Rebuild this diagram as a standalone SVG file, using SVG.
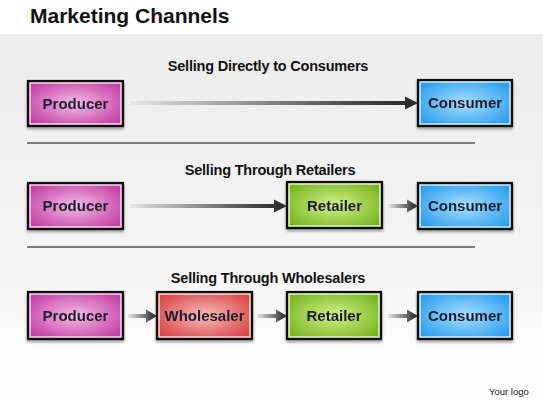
<svg xmlns="http://www.w3.org/2000/svg" width="543" height="403" viewBox="0 0 543 403">
<defs>
<style>
.title{font-family:"Liberation Sans",Arial,sans-serif;font-weight:bold;font-size:21px;fill:#111;}
.head{font-family:"Liberation Sans",Arial,sans-serif;font-weight:bold;font-size:14.5px;fill:#111;text-anchor:middle;letter-spacing:-0.2px;}
.lbl{font-family:"Liberation Sans",Arial,sans-serif;font-weight:bold;font-size:15px;fill:#1a1a2e;text-anchor:middle;}
.logo{font-family:"Liberation Sans",Arial,sans-serif;font-size:9.5px;fill:#222;}
.frame{fill:none;stroke:#111;stroke-width:2.2;}
.inner{fill:none;stroke:#f4f4f4;stroke-width:1.3;}
.div{stroke:#555;stroke-width:1.3;}
.arr{fill:url(#gArr);}
</style>
<linearGradient id="gBg" x1="0" y1="0" x2="0" y2="1">
<stop offset="0" stop-color="#ececec"/>
<stop offset="0.65" stop-color="#f5f5f5"/>
<stop offset="1" stop-color="#ffffff"/>
</linearGradient>
<linearGradient id="gArr" x1="0" y1="0" x2="1" y2="0">
<stop offset="0" stop-color="#e6e6e6"/>
<stop offset="0.85" stop-color="#3a3a3a"/>
<stop offset="1" stop-color="#2a2a2a"/>
</linearGradient>
<radialGradient id="gPro" cx="0.5" cy="0.5" r="0.6">
<stop offset="0" stop-color="#f4bce6"/>
<stop offset="1" stop-color="#c33fa4"/>
</radialGradient>
<radialGradient id="gCon" cx="0.5" cy="0.5" r="0.6">
<stop offset="0" stop-color="#a8e0ff"/>
<stop offset="1" stop-color="#2b9eec"/>
</radialGradient>
<radialGradient id="gRet" cx="0.5" cy="0.5" r="0.6">
<stop offset="0" stop-color="#d4f28a"/>
<stop offset="1" stop-color="#78b41e"/>
</radialGradient>
<radialGradient id="gWho" cx="0.5" cy="0.5" r="0.6">
<stop offset="0" stop-color="#f8bcbc"/>
<stop offset="1" stop-color="#d94545"/>
</radialGradient>
<filter id="sh" x="-10%" y="-10%" width="120%" height="130%">
<feGaussianBlur in="SourceAlpha" stdDeviation="1.5"/>
<feOffset dx="0" dy="2" result="b"/>
<feComponentTransfer><feFuncA type="linear" slope="0.4"/></feComponentTransfer>
<feMerge><feMergeNode/><feMergeNode in="SourceGraphic"/></feMerge>
</filter>
</defs>

<rect x="0" y="0" width="543" height="403" fill="#ffffff"/>
<rect x="0" y="34" width="543" height="369" fill="url(#gBg)"/>

<text class="title" x="30" y="23">Marketing Channels</text>

<text class="head" x="268" y="71">Selling Directly to Consumers</text>
<text class="head" x="270" y="175">Selling Through Retailers</text>
<text class="head" x="268" y="283">Selling Through Wholesalers</text>

<line class="div" x1="27" y1="143" x2="475" y2="143"/>
<line class="div" x1="27" y1="247" x2="475" y2="247"/>

<g id="connectors">
<path class="arr" d="M130,101 H405 V96.5 L418,103 L405,109.5 V105 H130 Z"/>
<path class="arr" d="M130,204 H274 V199.5 L287,206 L274,212.5 V208 H130 Z"/>
<path class="arr" d="M388,204 H407 V199.5 L418,206 L407,212.5 V208 H388 Z"/>
<path class="arr" d="M128,314 H146 V309.5 L157,316 L146,322.5 V318 H128 Z"/>
<path class="arr" d="M257,314 H276 V309.5 L287,316 L276,322.5 V318 H257 Z"/>
<path class="arr" d="M388,314 H407 V309.5 L418,316 L407,322.5 V318 H388 Z"/>
</g>

<g id="producer1" filter="url(#sh)">
<rect x="28" y="81" width="95" height="45" fill="url(#gPro)"/>
<rect class="inner" x="30" y="83" width="91" height="41"/>
<rect class="frame" x="28" y="81" width="95" height="45"/>
<text class="lbl" x="75.5" y="108.5">Producer</text>
</g>
<g id="consumer1" filter="url(#sh)">
<rect x="418" y="80" width="94" height="46" fill="url(#gCon)"/>
<rect class="inner" x="420" y="82" width="90" height="42"/>
<rect class="frame" x="418" y="80" width="94" height="46"/>
<text class="lbl" x="465" y="108">Consumer</text>
</g>

<g id="producer2" filter="url(#sh)">
<rect x="28" y="183" width="95" height="46" fill="url(#gPro)"/>
<rect class="inner" x="30" y="185" width="91" height="42"/>
<rect class="frame" x="28" y="183" width="95" height="46"/>
<text class="lbl" x="75.5" y="211">Producer</text>
</g>
<g id="retailer2" filter="url(#sh)">
<rect x="287" y="182" width="95" height="46" fill="url(#gRet)"/>
<rect class="inner" x="289" y="184" width="91" height="42"/>
<rect class="frame" x="287" y="182" width="95" height="46"/>
<text class="lbl" x="334.5" y="211">Retailer</text>
</g>
<g id="consumer2" filter="url(#sh)">
<rect x="418" y="183" width="94" height="46" fill="url(#gCon)"/>
<rect class="inner" x="420" y="185" width="90" height="42"/>
<rect class="frame" x="418" y="183" width="94" height="46"/>
<text class="lbl" x="465" y="211">Consumer</text>
</g>

<g id="producer3" filter="url(#sh)">
<rect x="28" y="292" width="95" height="47" fill="url(#gPro)"/>
<rect class="inner" x="30" y="294" width="91" height="43"/>
<rect class="frame" x="28" y="292" width="95" height="47"/>
<text class="lbl" x="75.5" y="321">Producer</text>
</g>
<g id="wholesaler3" filter="url(#sh)">
<rect x="157" y="292" width="95" height="47" fill="url(#gWho)"/>
<rect class="inner" x="159" y="294" width="91" height="43"/>
<rect class="frame" x="157" y="292" width="95" height="47"/>
<text class="lbl" x="204.5" y="321">Wholesaler</text>
</g>
<g id="retailer3" filter="url(#sh)">
<rect x="287" y="292" width="94" height="47" fill="url(#gRet)"/>
<rect class="inner" x="289" y="294" width="90" height="43"/>
<rect class="frame" x="287" y="292" width="94" height="47"/>
<text class="lbl" x="334" y="321">Retailer</text>
</g>
<g id="consumer3" filter="url(#sh)">
<rect x="418" y="292" width="94" height="47" fill="url(#gCon)"/>
<rect class="inner" x="420" y="294" width="90" height="43"/>
<rect class="frame" x="418" y="292" width="94" height="47"/>
<text class="lbl" x="465" y="321">Consumer</text>
</g>

<text class="logo" x="489" y="395">Your logo</text>
</svg>
